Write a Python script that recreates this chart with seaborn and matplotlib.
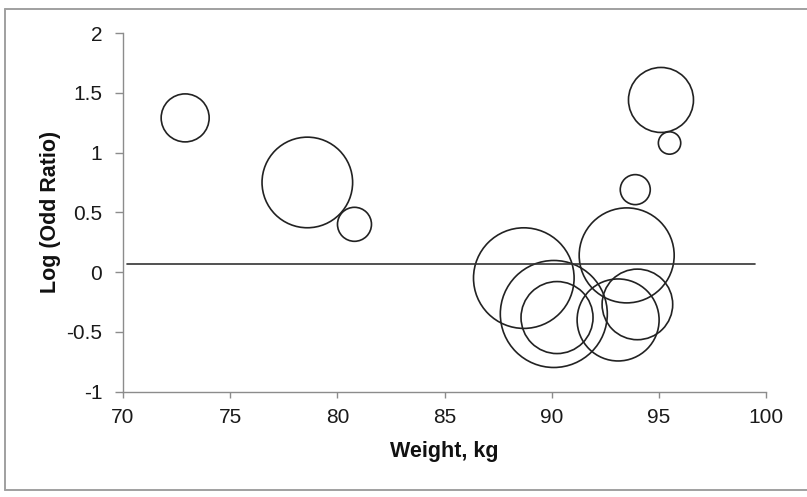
import matplotlib
matplotlib.use("Agg")
import matplotlib.pyplot as plt
from matplotlib.lines import Line2D
import seaborn as sns
import pandas as pd

# ---- data ----
weight_kg = [72.9, 78.6, 80.8, 95.1, 95.5, 93.9, 93.5, 88.7, 90.1, 90.25, 93.1, 94.0]
log_odds = [1.29, 0.75, 0.40, 1.44, 1.08, 0.69, 0.14, -0.05, -0.35, -0.38, -0.40, -0.27]
study_weight = [576, 2052, 289, 1056, 125, 225, 2256, 2530, 2862, 1296, 1681, 1246]
ref_line_y = 0.065
ref_line_x = [70.2, 99.5]
x_ticks = [70, 75, 80, 85, 90, 95, 100]
y_ticks = [-1, -0.5, 0, 0.5, 1, 1.5, 2]
y_ticklabels = ["-1", "-0.5", "0", "0.5", "1", "1.5", "2"]

df = pd.DataFrame({"w": weight_kg, "lor": log_odds, "sw": study_weight})

sns.set_style("ticks")
plt.rcParams["font.family"] = ["Liberation Sans", "DejaVu Sans"]

DPI = 100
fig = plt.figure(figsize=(8.07, 4.97), dpi=DPI)
ax = fig.add_axes([123 / 807, 1 - 391.7 / 497, (766 - 123) / 807, (391.7 - 33) / 497])

# area scale: weight value equals radius^2 in pixels
wmax = max(study_weight)
smax = wmax * (2 * 72 / DPI) ** 2
sns.scatterplot(data=df, x="w", y="lor", size="sw", sizes=(0, smax),
                size_norm=(0, wmax), legend=False, ax=ax)
pts = ax.collections[-1]
pts.set_facecolor("none")
pts.set_edgecolor("#222222")
pts.set_linewidth(1.2)

sns.lineplot(x=ref_line_x, y=[ref_line_y, ref_line_y], color="#333333",
             linewidth=1.2, ax=ax)

ax.set_xlim(70, 100)
ax.set_ylim(-1, 2)
ax.set_xticks(x_ticks)
ax.set_yticks(y_ticks)
ax.set_yticklabels(y_ticklabels)

for s in ["top", "right"]:
    ax.spines[s].set_visible(False)
for s in ["left", "bottom"]:
    ax.spines[s].set_color("#8c8c8c")
    ax.spines[s].set_linewidth(1.0)

ax.tick_params(axis="y", direction="out", length=6, width=1.0, color="#8c8c8c",
               labelsize=15, labelcolor="#1a1a1a", pad=9)
ax.tick_params(axis="x", direction="out", length=4, width=1.0, color="#8c8c8c",
               labelsize=15, labelcolor="#1a1a1a", pad=8)

ax.set_xlabel("Weight, kg", fontsize=15.5, fontweight="bold", color="#111111", labelpad=10)
ax.set_ylabel("Log (Odd Ratio)", fontsize=15.5, fontweight="bold", color="#111111", labelpad=4)

# outer frame (top, left, bottom)
H, W = 497, 807
fc = "#a0a0a0"
fig.add_artist(Line2D([5 / W, 1.0], [1 - 9 / H, 1 - 9 / H], transform=fig.transFigure, color=fc, lw=1.4))
fig.add_artist(Line2D([5 / W, 5 / W], [1 - 9 / H, 1 - 489.5 / H], transform=fig.transFigure, color=fc, lw=1.4))
fig.add_artist(Line2D([5 / W, 1.0], [1 - 489.5 / H, 1 - 489.5 / H], transform=fig.transFigure, color=fc, lw=1.4))

fig.savefig("out.png", dpi=DPI)
